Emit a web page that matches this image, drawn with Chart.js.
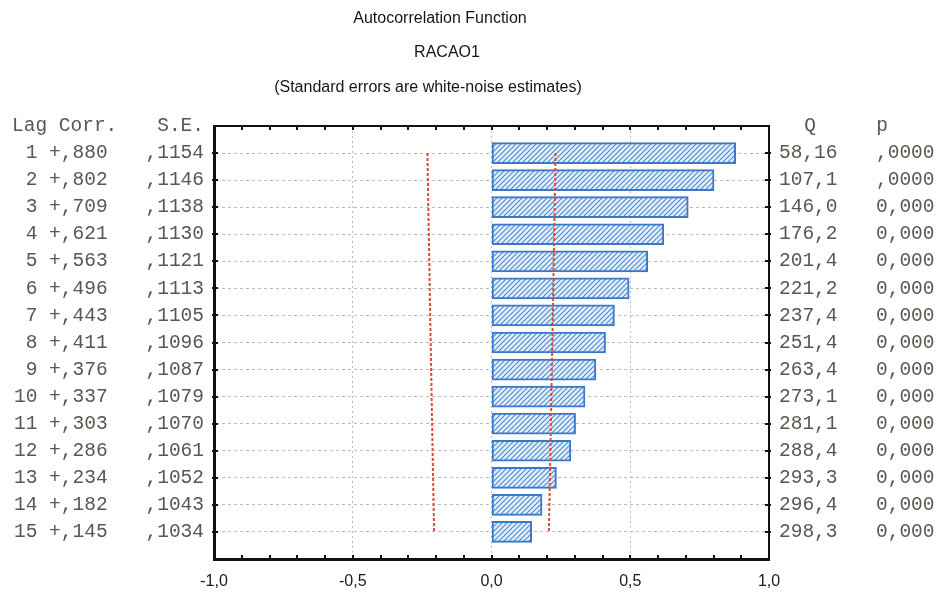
<!DOCTYPE html>
<html>
<head>
<meta charset="utf-8">
<script src="https://cdn.jsdelivr.net/npm/chart.js@4/dist/chart.umd.min.js"></script>
<style>
  html, body { margin: 0; padding: 0; background: #ffffff; }
  #c { display: block; }
</style>
</head>
<body>
<canvas id="c" width="939" height="592"></canvas>
<script>
// Autocorrelation table for RACAO1
const lags = [1, 2, 3, 4, 5, 6, 7, 8, 9, 10, 11, 12, 13, 14, 15];
const corr = [0.880, 0.802, 0.709, 0.621, 0.563, 0.496, 0.443, 0.411, 0.376, 0.337, 0.303, 0.286, 0.234, 0.182, 0.145];
const stdErr = [0.1154, 0.1146, 0.1138, 0.1130, 0.1121, 0.1113, 0.1105, 0.1096, 0.1087, 0.1079, 0.1070, 0.1061, 0.1052, 0.1043, 0.1034];
const qStat = [58.16, 107.1, 146.0, 176.2, 201.4, 221.2, 237.4, 251.4, 263.4, 273.1, 281.1, 288.4, 293.3, 296.4, 298.3];
const pLabels = [',0000', ',0000', '0,000', '0,000', '0,000', '0,000', '0,000', '0,000', '0,000', '0,000', '0,000', '0,000', '0,000', '0,000', '0,000'];
const titleLines = ['Autocorrelation Function', 'RACAO1', '(Standard errors are white-noise estimates)'];
const headers = { lagCorr: 'Lag Corr.', se: 'S.E.', q: 'Q', p: 'p' };

// 95% white-noise limits: +/- 2 standard errors
const lowerLimit = stdErr.map(s => -2 * s);
const upperLimit = stdErr.map(s => 2 * s);

const fmtCorr = v => (v >= 0 ? '+' : '-') + Math.abs(v).toFixed(3).replace(/^0/, '').replace('.', ',');
const fmtSE = v => v.toFixed(4).replace(/^0/, '').replace('.', ',');
const fmtQ = v => v.toPrecision(4).replace('.', ',');
const fmtTick = v => v.toFixed(1).replace('.', ',');

function hatchPattern() {
  const s = 5;
  const c = document.createElement('canvas');
  c.width = s; c.height = s;
  const g = c.getContext('2d');
  g.fillStyle = '#e4eef9';
  g.fillRect(0, 0, s, s);
  g.strokeStyle = '#4c89d2';
  g.lineWidth = 1.1;
  g.beginPath();
  g.moveTo(-1, s + 1); g.lineTo(s + 1, -1);
  g.moveTo(-1, 1); g.lineTo(1, -1);
  g.moveTo(s - 1, s + 1); g.lineTo(s + 1, s - 1);
  g.stroke();
  return g.createPattern(c, 'repeat');
}

const MONO = '"Liberation Mono", "Courier New", monospace';
const SANS = '"Liberation Sans", Arial, sans-serif';
const near = (a, b) => Math.abs(a - b) < 1e-6;

// Titles, side table columns and inward tick marks
const tablePlugin = {
  id: 'tablePlugin',
  afterDraw(chart) {
    const { ctx, chartArea: area } = chart;
    const x = chart.scales.x, y = chart.scales.y;
    ctx.save();

    ctx.fillStyle = '#151515';
    ctx.font = '16px ' + SANS;
    ctx.textAlign = 'center';
    ctx.textBaseline = 'middle';
    const titlePos = [[440, 19], [447, 53], [428, 88]];
    titleLines.forEach((t, i) => ctx.fillText(t, titlePos[i][0], titlePos[i][1]));

    ctx.font = '19.5px ' + MONO;
    ctx.fillStyle = '#5a5750';
    const hy = y.getPixelForValue(0);
    ctx.textAlign = 'left';
    ctx.fillText(headers.lagCorr, 12, hy);
    ctx.textAlign = 'right';
    ctx.fillText(headers.se, 204, hy);
    ctx.textAlign = 'center';
    ctx.fillText(headers.q, 810, hy);
    ctx.fillText(headers.p, 882, hy);

    lags.forEach((lag, i) => {
      const py = y.getPixelForValue(lag);
      ctx.textAlign = 'left';
      ctx.fillText(String(lag).padStart(2, ' ') + ' ' + fmtCorr(corr[i]), 14, py);
      ctx.textAlign = 'right';
      ctx.fillText(fmtSE(stdErr[i]), 204, py);
      ctx.textAlign = 'left';
      ctx.fillText(fmtQ(qStat[i]), 779, py);
      ctx.fillText(pLabels[i], 876, py);
    });

    // inward tick marks on all four sides
    ctx.strokeStyle = '#111';
    ctx.lineWidth = 2;
    ctx.beginPath();
    x.ticks.forEach(t => {
      const px = Math.round(x.getPixelForValue(t.value));
      ctx.moveTo(px, area.bottom); ctx.lineTo(px, area.bottom - 4);
      ctx.moveTo(px, area.top); ctx.lineTo(px, area.top + 4);
    });
    lags.forEach(lag => {
      const py = Math.round(y.getPixelForValue(lag));
      ctx.moveTo(area.left - 2, py); ctx.lineTo(area.left + 4, py);
      ctx.moveTo(area.right + 2, py); ctx.lineTo(area.right - 4, py);
    });
    ctx.stroke();
    ctx.restore();
  }
};

const limitStyle = {
  type: 'line',
  indexAxis: 'y',
  borderColor: '#e4482c',
  borderWidth: 2,
  borderDash: [3, 2],
  pointRadius: 0,
  fill: false,
  tension: 0,
  order: 1
};

new Chart(document.getElementById('c'), {
  type: 'bar',
  data: {
    datasets: [
      {
        label: 'Corr.',
        data: lags.map((l, i) => ({ x: corr[i], y: l })),
        backgroundColor: hatchPattern(),
        borderColor: '#3b78c9',
        borderWidth: 2,
        borderSkipped: false,
        barThickness: 21,
        order: 2
      },
      Object.assign({ label: 'Lower limit', data: lags.map((l, i) => ({ x: lowerLimit[i], y: l })) }, limitStyle),
      Object.assign({ label: 'Upper limit', data: lags.map((l, i) => ({ x: upperLimit[i], y: l })) }, limitStyle)
    ]
  },
  options: {
    indexAxis: 'y',
    responsive: false,
    animation: false,
    devicePixelRatio: 1,
    layout: { padding: { top: 126, left: 214, right: 170, bottom: 0 } },
    plugins: { legend: { display: false }, tooltip: { enabled: false }, title: { display: false } },
    scales: {
      x: {
        type: 'linear',
        position: 'bottom',
        min: -1, max: 1,
        afterFit: s => { s.height = 33; },
        ticks: {
          stepSize: 0.1,
          autoSkip: false,
          maxRotation: 0,
          padding: 13,
          color: '#1a1a1a',
          font: { family: SANS, size: 16 },
          callback: v => (near(v * 2, Math.round(v * 2)) ? fmtTick(v) : '')
        },
        grid: {
          drawTicks: false,
          lineWidth: 1,
          color: c => {
            const v = c.tick ? c.tick.value : NaN;
            return (near(v, -0.5) || near(v, 0) || near(v, 0.5)) ? '#bcbcbc' : 'rgba(0,0,0,0)';
          }
        },
        border: { display: true, width: 3, color: '#111', dash: [2, 3] }
      },
      x2: {
        type: 'linear',
        position: 'top',
        min: -1, max: 1,
        afterFit: s => { s.height = 0; },
        ticks: { display: false },
        grid: { display: false, drawTicks: false },
        border: { display: true, width: 2, color: '#111' }
      },
      y: {
        type: 'linear',
        position: 'left',
        min: 0, max: 16,
        reverse: true,
        offset: false,
        afterFit: s => { s.width = 0; },
        ticks: { display: false, stepSize: 1 },
        grid: {
          offset: false,
          drawTicks: false,
          lineWidth: 1,
          color: c => {
            const v = c.tick ? c.tick.value : NaN;
            return (v > 0.5 && v < 15.5) ? '#bcbcbc' : 'rgba(0,0,0,0)';
          }
        },
        border: { display: true, width: 3, color: '#111', dash: [3, 3] }
      },
      y2: {
        type: 'linear',
        position: 'right',
        min: 0, max: 16,
        reverse: true,
        offset: false,
        afterFit: s => { s.width = 0; },
        ticks: { display: false },
        grid: { display: false, drawTicks: false, offset: false },
        border: { display: true, width: 2, color: '#111' }
      }
    }
  },
  plugins: [tablePlugin]
});
</script>
</body>
</html>
